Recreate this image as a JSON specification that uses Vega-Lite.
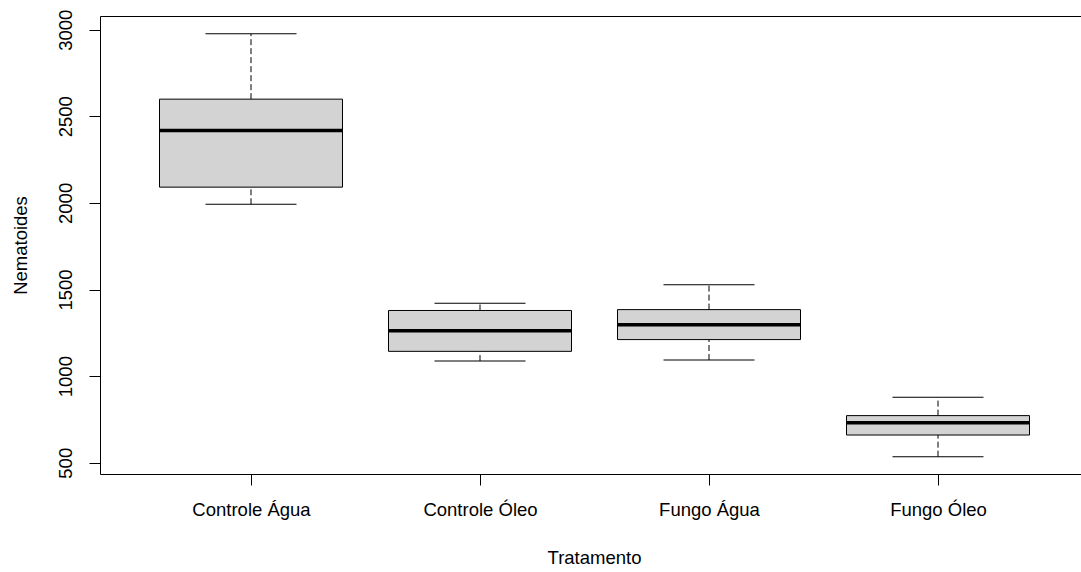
{
  "$schema": "https://vega.github.io/schema/vega-lite/v6.json",
  "autosize": {"type": "none"},
  "padding": {"left": 100, "top": 16, "right": 0, "bottom": 98},
  "width": 982,
  "height": 458,
  "background": "white",
  "config": {
    "view": {"stroke": "black", "strokeWidth": 1},
    "font": "Liberation Sans",
    "axis": {
      "grid": false,
      "domain": false,
      "tickColor": "black",
      "tickSize": 11,
      "labelColor": "black",
      "labelFont": "Liberation Sans",
      "labelFontSize": 18.5,
      "titleFont": "Liberation Sans",
      "titleFontSize": 18.5,
      "titleFontWeight": "normal",
      "titleColor": "black"
    }
  },
  "data": {
    "values": [
      {"Tratamento": "Controle Água", "min": 1992, "q1": 2091, "median": 2418, "q3": 2599, "max": 2977},
      {"Tratamento": "Controle Óleo", "min": 1087, "q1": 1143, "median": 1262, "q3": 1379, "max": 1421},
      {"Tratamento": "Fungo Água", "min": 1093, "q1": 1211, "median": 1296, "q3": 1384, "max": 1527},
      {"Tratamento": "Fungo Óleo", "min": 535, "q1": 660, "median": 731, "q3": 772, "max": 878}
    ]
  },
  "encoding": {
    "x": {
      "field": "Tratamento",
      "type": "nominal",
      "sort": ["Controle Água", "Controle Óleo", "Fungo Água", "Fungo Óleo"],
      "scale": {"type": "point", "range": [151, 838], "padding": 0},
      "axis": {"labelAngle": 0, "labelPadding": 15, "title": "Tratamento", "titlePadding": 30, "titleX": 494, "titleAlign": "center", "titleAnchor": null}
    }
  },
  "layer": [
    {
      "mark": {"type": "rule", "color": "black", "strokeWidth": 1, "strokeDash": [6, 3]},
      "encoding": {
        "y": {"field": "q3", "type": "quantitative", "scale": {"domain": [435, 3079], "nice": false, "zero": false},
          "axis": {"values": [500, 1000, 1500, 2000, 2500, 3000], "format": "d", "labelAngle": -90, "labelPadding": 14, "title": "Nematoides", "titlePadding": 26}},
        "y2": {"field": "max"}
      }
    },
    {
      "mark": {"type": "rule", "color": "black", "strokeWidth": 1, "strokeDash": [6, 3]},
      "encoding": {
        "y": {"field": "min", "type": "quantitative"},
        "y2": {"field": "q1"}
      }
    },
    {
      "mark": {"type": "tick", "color": "black", "thickness": 1, "size": 91, "opacity": 1},
      "encoding": {"y": {"field": "max", "type": "quantitative"}}
    },
    {
      "mark": {"type": "tick", "color": "black", "thickness": 1, "size": 91, "opacity": 1},
      "encoding": {"y": {"field": "min", "type": "quantitative"}}
    },
    {
      "mark": {"type": "bar", "fill": "#D3D3D3", "stroke": "black", "strokeWidth": 1, "width": 183},
      "encoding": {
        "y": {"field": "q1", "type": "quantitative"},
        "y2": {"field": "q3"}
      }
    },
    {
      "mark": {"type": "tick", "color": "black", "thickness": 3.5, "size": 183, "opacity": 1},
      "encoding": {"y": {"field": "median", "type": "quantitative"}}
    }
  ]
}
